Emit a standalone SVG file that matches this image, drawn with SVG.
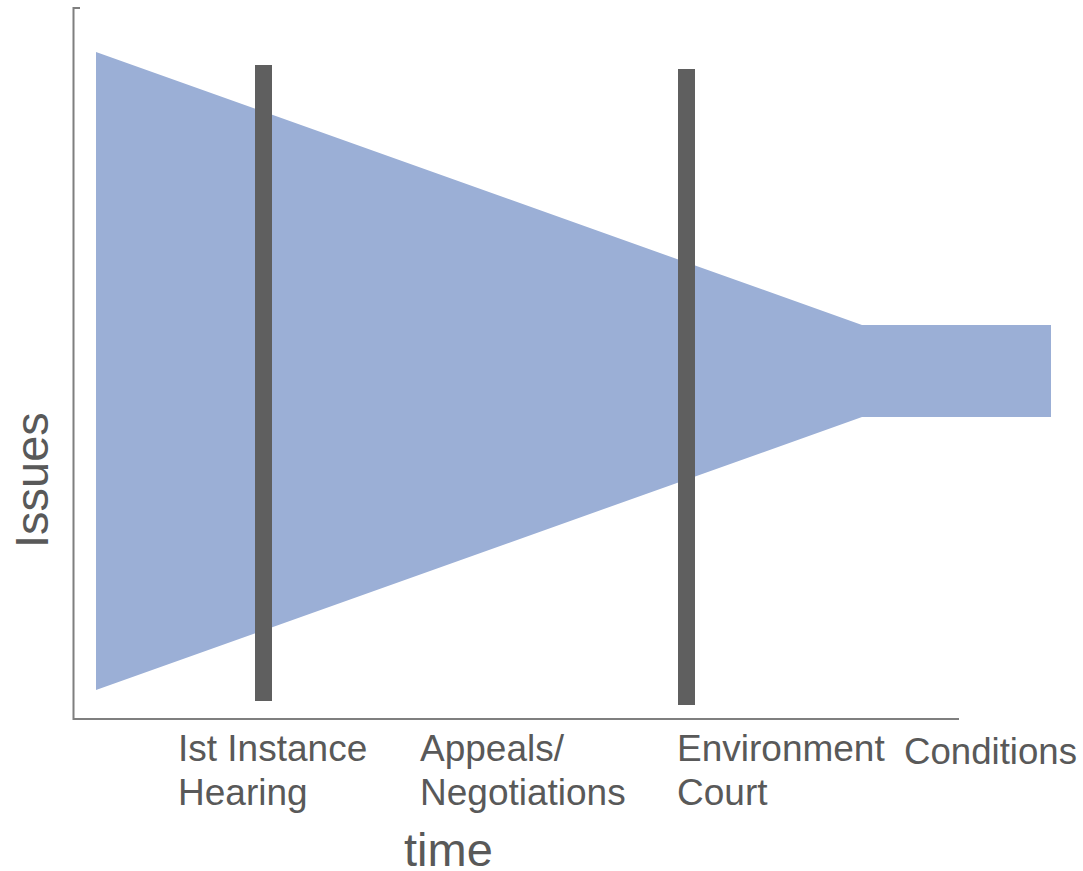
<svg xmlns="http://www.w3.org/2000/svg" width="1083" height="871" viewBox="0 0 1083 871">
<style>
.lbl{font-family:"Liberation Sans",Arial,sans-serif;font-size:37px;fill:#595959}
.big{font-family:"Liberation Sans",Arial,sans-serif;font-size:47px;fill:#595959}
.bar{fill:#5F5F5F}
.axis{stroke:#7F7F7F;stroke-width:2;fill:none}
</style>
<rect width="1083" height="871" fill="#fff"/>
<g id="funnel"><polygon points="96,52 862,325 1051,325 1051,417 862,417 96,690" fill="#9BAFD6"/></g>
<g id="bar1"><rect class="bar" x="255" y="65" width="17" height="636"/></g>
<g id="bar2"><rect class="bar" x="678" y="69" width="17" height="636"/></g>
<g id="axes">
<path class="axis" d="M80,8 H73.5 V719 H959"/>
</g>
<g id="labels">
<text class="lbl" x="178" y="761">Ist Instance</text>
<text class="lbl" x="178" y="805">Hearing</text>
<text class="lbl" x="420" y="761">Appeals/</text>
<text class="lbl" x="420" y="805">Negotiations</text>
<text class="lbl" x="677" y="761">Environment</text>
<text class="lbl" x="677" y="805">Court</text>
<text class="lbl" x="904" y="764" textLength="173" lengthAdjust="spacingAndGlyphs">Conditions</text>
<text class="big" x="404" y="866">time</text>
<text class="big" transform="translate(48,548) rotate(-90)">Issues</text>
</g>
</svg>
